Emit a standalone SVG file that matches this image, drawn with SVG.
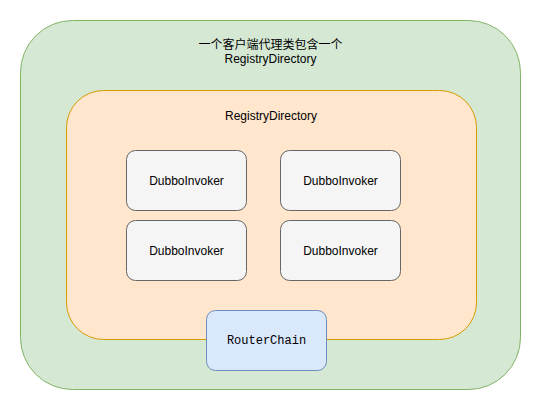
<svg xmlns="http://www.w3.org/2000/svg" width="543" height="411" viewBox="0 0 543 411">
<style>
text{font-family:"Liberation Sans","Noto Sans CJK SC",sans-serif;font-size:12px;fill:#000;text-anchor:middle;dominant-baseline:central}
.inv{fill:#f5f5f5;stroke:#666666;stroke-width:1}
.mono{font-family:"Liberation Mono",monospace}
</style>
<rect width="543" height="411" fill="#ffffff"/>
<g id="client-proxy">
<rect x="20.5" y="20.5" width="500" height="369" rx="52" ry="52" fill="#d5e8d4" stroke="#82b366"/>
<text x="270.5" y="45">一个客户端代理类包含一个</text>
<text x="270.5" y="58.5">RegistryDirectory</text>
</g>
<g id="registry-directory">
<rect x="66.5" y="90.5" width="410" height="249" rx="37" ry="37" fill="#ffe6cc" stroke="#d79b00"/>
<text x="271" y="116">RegistryDirectory</text>
</g>
<g id="invoker1">
<rect class="inv" x="126.5" y="150.5" width="120" height="60" rx="9" ry="9"/>
<text x="186.5" y="181">DubboInvoker</text>
</g>
<g id="invoker2">
<rect class="inv" x="280.5" y="150.5" width="120" height="60" rx="9" ry="9"/>
<text x="340.5" y="181">DubboInvoker</text>
</g>
<g id="invoker3">
<rect class="inv" x="126.5" y="220.5" width="120" height="60" rx="9" ry="9"/>
<text x="186.5" y="251">DubboInvoker</text>
</g>
<g id="invoker4">
<rect class="inv" x="280.5" y="220.5" width="120" height="60" rx="9" ry="9"/>
<text x="340.5" y="251">DubboInvoker</text>
</g>
<g id="router-chain">
<rect x="206.5" y="310.5" width="120" height="60" rx="9" ry="9" fill="#dae8fc" stroke="#6c8ebf"/>
<text class="mono" x="266.5" y="341">RouterChain</text>
</g>
<g id="connectors"></g>
</svg>
